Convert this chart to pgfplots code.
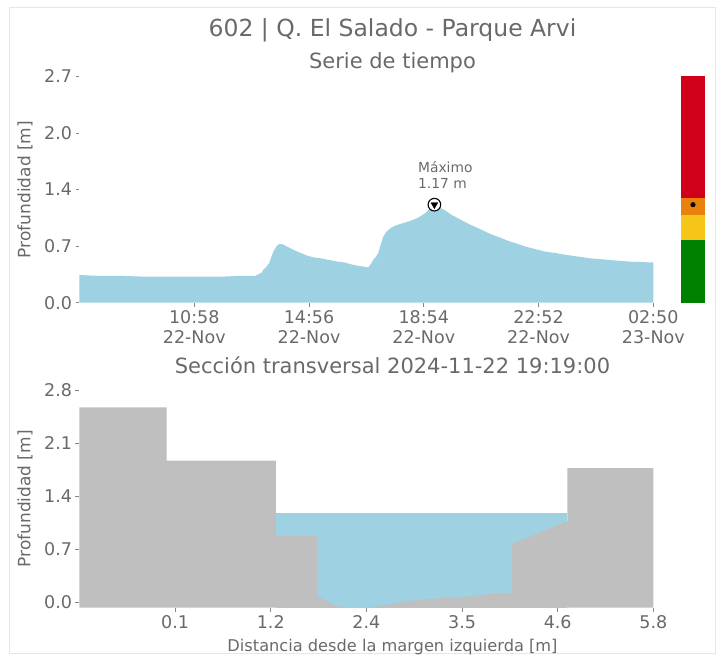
\documentclass[border=0pt]{standalone}
\usepackage{fontspec}
\setmainfont{DejaVu Sans}
\usepackage{pgfplots}
\pgfplotsset{compat=1.18}
\definecolor{txt}{HTML}{696969}
\definecolor{water}{HTML}{9ED1E1}
\definecolor{terrain}{HTML}{BFBFBF}
\definecolor{cbred}{HTML}{D0001A}
\definecolor{cborange}{HTML}{E8820C}
\definecolor{cbyellow}{HTML}{F5C518}
\definecolor{cbgreen}{HTML}{008000}
\definecolor{framec}{HTML}{E6E6E6}
\newcommand{\fs}[2]{\fontsize{#1}{#2}\selectfont}
\pgfplotsset{base/.style={
  scale only axis, anchor=south west,
  axis line style={draw=none},
  tick pos=left, tick align=outside, major tick length=4pt,
  tick style={draw=txt!80, line width=0.8pt},
  ticklabel style={font=\fs{17.5}{20}, text=txt},
  ylabel style={font=\fs{17}{20}, text=txt, at={(axis description cs:-0.095,0.5)}, anchor=center},
}}
\begin{document}
\begin{tikzpicture}
\path (0,0) rectangle (721pt,664pt);
\draw[framec, line width=1pt] (9pt,10pt) rectangle (715pt,656pt);
\node[font=\fs{23.5}{26}, text=txt, anchor=base] at (392.5pt,627pt) {602 | Q. El Salado - Parque Arvi};
\node[font=\fs{21}{24}, text=txt, anchor=base] at (392.5pt,595pt) {Serie de tiempo};
\node[font=\fs{21}{24}, text=txt, anchor=base] at (392.5pt,290pt) {Sección transversal 2024-11-22 19:19:00};

% time series
\begin{axis}[base, at={(79.5pt,361.3pt)}, width=573.8pt, height=226.2pt,
  xmin=0, xmax=1190, ymin=0, ymax=2.7,
  xtick={238,476,714,952,1190},
  xticklabels={{10:58\\22-Nov},{14:56\\22-Nov},{18:54\\22-Nov},{22:52\\22-Nov},{02:50\\23-Nov}},
  xticklabel style={align=center},
  ytick={0,0.675,1.35,2.025,2.7},
  yticklabels={0.0,0.7,1.4,2.0,2.7},
  ylabel={Profundidad [m]}, clip=false]
\addplot[fill=water, draw=none] table {
0 0.33
40 0.32
85 0.32
140 0.31
189 0.31
240 0.31
292 0.31
330 0.32
365 0.32
371 0.34
378 0.36
381 0.39
388 0.43
394 0.48
398 0.55
403 0.62
408 0.67
414 0.70
420 0.70
427 0.68
437 0.65
448 0.62
460 0.59
473 0.56
486 0.54
500 0.53
518 0.51
535 0.49
550 0.48
562 0.46
577 0.44
590 0.43
599 0.42
604 0.46
609 0.51
615 0.55
620 0.60
625 0.70
630 0.79
637 0.85
645 0.89
655 0.92
665 0.94
683 0.97
701 1.01
717 1.07
728 1.13
736 1.17
745 1.14
759 1.10
771 1.05
784 1.01
797 0.97
811 0.93
830 0.88
852 0.82
875 0.77
893 0.73
910 0.70
925 0.67
945 0.64
966 0.61
990 0.59
1010 0.57
1035 0.55
1059 0.53
1080 0.52
1097 0.51
1120 0.50
1142 0.49
1165 0.485
1190 0.48
} \closedcycle;
\addplot[only marks, mark=*, mark size=6.3pt, mark options={fill=white, draw=black, line width=1.1pt}] coordinates {(736,1.17)};
\addplot[only marks, mark=triangle*, mark size=3.9pt, mark options={fill=black, draw=black, rotate=180}] coordinates {(736,1.17)};
\node[font=\fs{13.8}{16}, text=txt, anchor=base west, inner sep=0pt] at (axis cs:702,1.55) {Máximo};
\node[font=\fs{13.8}{16}, text=txt, anchor=base west, inner sep=0pt] at (axis cs:702,1.364) {1.17 m};
\end{axis}

% colour bar
\begin{axis}[scale only axis, anchor=south west, at={(681pt,361.3pt)}, width=24pt, height=226.2pt,
  xmin=0, xmax=1, ymin=0, ymax=2.7, hide axis]
\addplot[fill=cbgreen, draw=none] coordinates {(0,0) (1,0) (1,0.748) (0,0.748)};
\addplot[fill=cbyellow, draw=none] coordinates {(0,0.748) (1,0.748) (1,1.047) (0,1.047)};
\addplot[fill=cborange, draw=none] coordinates {(0,1.047) (1,1.047) (1,1.246) (0,1.246)};
\addplot[fill=cbred, draw=none] coordinates {(0,1.246) (1,1.246) (1,2.7) (0,2.7)};
\addplot[only marks, mark=*, mark size=2.3pt, black] coordinates {(0.5,1.17)};
\end{axis}

% cross section
\begin{axis}[base, at={(79.5pt,56.3pt)}, width=573.8pt, height=217.7pt,
  xmin=-1.035, xmax=5.775, ymin=-0.071, ymax=2.8,
  xtick={0.1,1.235,2.37,3.505,4.64,5.775},
  xticklabels={0.1,1.2,2.4,3.5,4.6,5.8},
  ytick={0,0.7,1.4,2.1,2.8},
  yticklabels={0.0,0.7,1.4,2.1,2.8},
  ylabel={Profundidad [m]},
  xlabel={Distancia desde la margen izquierda [m]},
  xlabel style={font=\fs{16.2}{19}, text=txt, at={(axis description cs:0.5455,0)}, anchor=base, yshift=-44pt}]
\addplot[fill=water, draw=none] coordinates {(1.297,-0.071) (4.754,-0.071) (4.754,1.18) (1.297,1.18)};
\addplot[fill=terrain, draw=none] coordinates {
(-1.035,-0.071) (-1.035,2.57) (0.0,2.57) (0.0,1.87) (1.297,1.87) (1.297,0.874)
(1.792,0.874) (1.792,0.074) (2.017,-0.049) (2.116,-0.071) (2.413,-0.071)
(2.887,0.017) (3.243,0.053) (3.560,0.074) (3.835,0.109) (4.098,0.126)
(4.101,0.769) (4.754,1.072) (4.754,1.77) (5.775,1.77) (5.775,-0.071)};
\end{axis}
\end{tikzpicture}
\end{document}
